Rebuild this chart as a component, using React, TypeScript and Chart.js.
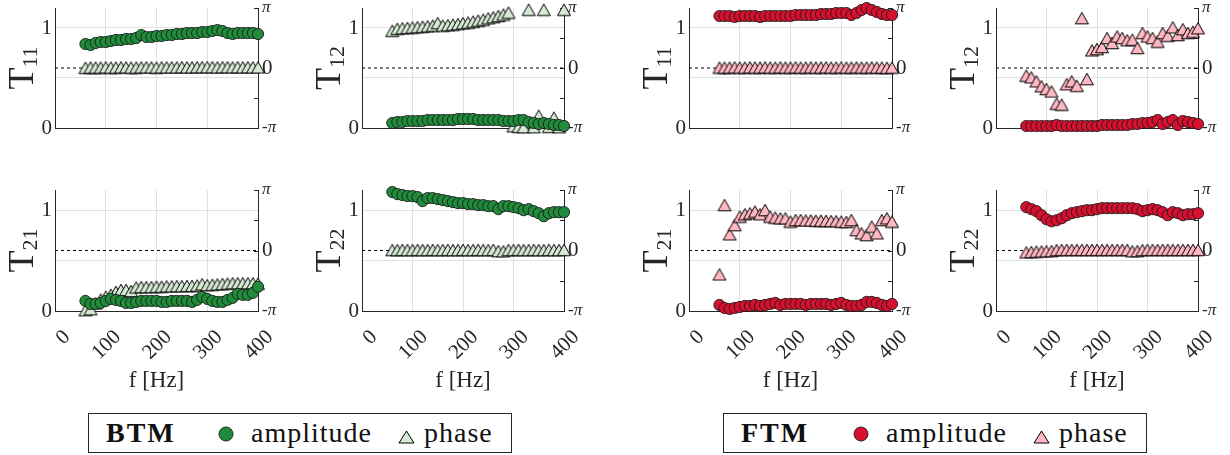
import React, { useEffect, useRef } from 'react';
import { Chart, registerables } from 'chart.js';

Chart.register(...registerables);

const FONT = '"Liberation Serif", "Times New Roman", serif';
const AXIS = '#262626';
const GRID = '#e0e0e0';

// ---------- data ----------
const freqs = [60, 70, 80, 90, 100, 110, 120, 130, 140, 150, 160, 170, 180, 190, 200, 210, 220, 230, 240, 250, 260, 270, 280, 290, 300, 310, 320, 330, 340, 350, 360, 370, 380, 390, 400];
const xTicks = [0, 100, 200, 300, 400];
const ampTicks = [0, 0.5, 1];
const ampTickLabels = ['0', '', '1'];
const ampRange = [0, 1.2];
const phaseTicks = [-Math.PI, -Math.PI / 2, 0, Math.PI / 2, Math.PI];
const phaseTickLabels = ['-π', '', '0', '', 'π'];
const phaseRange = [-Math.PI, Math.PI];
const xLabel = 'f [Hz]';
const legendNames = ['BTM', 'FTM'];
const seriesNames = ['amplitude', 'phase'];

const btmT11Amp = [0.84, 0.83, 0.85, 0.86, 0.86, 0.87, 0.88, 0.88, 0.89, 0.89, 0.90, 0.93, 0.91, 0.91, 0.92, 0.92, 0.93, 0.93, 0.94, 0.94, 0.95, 0.95, 0.95, 0.96, 0.96, 0.97, 0.98, 0.97, 0.95, 0.94, 0.95, 0.95, 0.95, 0.95, 0.94];
const btmT11Phase = [0.01, 0.02, 0.02, 0.02, 0.03, 0.02, 0.02, 0.03, 0.03, 0.02, 0.02, 0.03, 0.03, 0.03, 0.02, 0.03, 0.03, 0.03, 0.03, 0.04, 0.03, 0.03, 0.04, 0.04, 0.04, 0.04, 0.03, 0.04, 0.04, 0.03, 0.04, 0.03, 0.04, 0.03, 0.03];
const btmT12Amp = [0.05, 0.06, 0.06, 0.07, 0.07, 0.07, 0.07, 0.08, 0.08, 0.08, 0.08, 0.08, 0.08, 0.09, 0.09, 0.09, 0.09, 0.08, 0.08, 0.08, 0.08, 0.08, 0.07, 0.07, 0.07, 0.08, 0.08, 0.06, 0.05, 0.04, 0.05, 0.04, 0.03, 0.03, 0.02];
const btmT12Phase = [1.95, 2.05, 2.08, 2.10, 2.12, 2.14, 2.16, 2.18, 2.22, 2.35, 2.22, 2.24, 2.27, 2.30, 2.34, 2.38, 2.43, 2.48, 2.53, 2.60, 2.66, 2.72, 2.80, 2.90, -3.05, -3.08, -3.10, 3.05, -3.10, -2.50, 3.05, -3.08, -2.60, -3.10, 3.05];
const btmT21Amp = [0.10, 0.07, 0.07, 0.08, 0.10, 0.12, 0.11, 0.10, 0.08, 0.08, 0.09, 0.10, 0.10, 0.10, 0.10, 0.09, 0.09, 0.10, 0.10, 0.10, 0.10, 0.09, 0.11, 0.14, 0.12, 0.10, 0.09, 0.09, 0.11, 0.13, 0.17, 0.16, 0.16, 0.18, 0.24];
const btmT21Phase = [-3.10, -3.05, -2.75, -2.55, -2.40, -2.30, -2.15, -2.05, -2.05, -2.10, -1.92, -1.90, -1.90, -1.90, -1.88, -1.88, -1.86, -1.86, -1.85, -1.85, -1.84, -1.84, -1.82, -1.75, -1.80, -1.78, -1.76, -1.74, -1.72, -1.70, -1.70, -1.70, -1.70, -1.70, -1.72];
const btmT22Amp = [1.18, 1.16, 1.15, 1.14, 1.14, 1.13, 1.09, 1.12, 1.12, 1.11, 1.10, 1.09, 1.08, 1.07, 1.07, 1.06, 1.06, 1.05, 1.05, 1.04, 1.04, 1.01, 1.04, 1.04, 1.03, 1.02, 1.00, 1.01, 0.99, 0.97, 0.94, 0.97, 0.98, 0.98, 0.98];
const btmT22Phase = [0.02, 0.02, 0.03, 0.02, 0.02, 0.03, 0.02, 0.02, 0.03, 0.02, 0.02, 0.03, 0.02, 0.02, 0.03, 0.02, 0.02, 0.03, 0.02, 0.02, 0.03, -0.03, -0.04, 0.02, 0.02, 0.03, 0.02, 0.02, 0.03, 0.02, 0.02, 0.03, 0.02, 0.02, 0.03];

const ftmT11Amp = [1.12, 1.12, 1.12, 1.11, 1.12, 1.12, 1.12, 1.12, 1.11, 1.12, 1.12, 1.12, 1.12, 1.12, 1.12, 1.13, 1.13, 1.13, 1.13, 1.13, 1.14, 1.14, 1.14, 1.15, 1.15, 1.15, 1.13, 1.15, 1.18, 1.20, 1.18, 1.16, 1.14, 1.13, 1.13];
const ftmT11Phase = [0.02, 0.02, 0.02, 0.03, 0.02, 0.02, 0.03, 0.02, 0.02, 0.03, 0.02, 0.02, 0.03, 0.02, 0.02, 0.03, 0.02, 0.02, 0.03, 0.02, 0.02, 0.03, 0.02, 0.02, 0.03, 0.02, 0.02, 0.03, 0.02, 0.02, 0.03, 0.02, 0.02, 0.01, 0.02];
const ftmT12Amp = [0.02, 0.02, 0.02, 0.02, 0.02, 0.02, 0.03, 0.02, 0.02, 0.02, 0.02, 0.02, 0.02, 0.02, 0.02, 0.03, 0.03, 0.03, 0.03, 0.03, 0.03, 0.04, 0.04, 0.05, 0.05, 0.06, 0.08, 0.04, 0.06, 0.08, 0.03, 0.07, 0.06, 0.05, 0.04];
const ftmT12Phase = [-0.40, -0.49, -0.70, -0.96, -1.10, -1.23, -1.87, -1.92, -0.85, -0.70, -0.93, 2.61, -0.58, 0.92, 0.99, 1.10, 1.57, 1.31, 1.65, 1.57, 1.45, 1.48, 1.05, 1.83, 1.65, 1.57, 1.38, 1.83, 1.69, 2.13, 1.73, 2.03, 1.83, 1.90, 2.08];
const ftmT21Amp = [0.06, 0.03, 0.02, 0.03, 0.04, 0.05, 0.05, 0.06, 0.05, 0.06, 0.07, 0.08, 0.06, 0.07, 0.07, 0.07, 0.07, 0.06, 0.07, 0.07, 0.07, 0.07, 0.06, 0.07, 0.08, 0.06, 0.05, 0.05, 0.06, 0.09, 0.09, 0.08, 0.06, 0.05, 0.07];
const ftmT21Phase = [-1.24, 2.36, 0.84, 1.32, 1.76, 1.88, 1.93, 2.02, 1.88, 2.10, 1.76, 1.71, 1.67, 1.67, 1.50, 1.58, 1.58, 1.56, 1.56, 1.55, 1.55, 1.54, 1.53, 1.52, 1.50, 1.48, 1.58, 1.06, 0.89, 0.80, 1.24, 0.89, 1.58, 1.67, 1.50];
const ftmT22Amp = [1.03, 1.01, 0.99, 0.95, 0.91, 0.89, 0.90, 0.92, 0.95, 0.97, 0.98, 0.99, 1.00, 1.00, 1.01, 1.02, 1.02, 1.02, 1.02, 1.02, 1.02, 1.02, 1.01, 0.99, 1.00, 1.01, 1.00, 0.98, 0.95, 0.98, 0.97, 0.95, 0.96, 0.96, 0.97];
const ftmT22Phase = [-0.10, -0.08, -0.06, -0.05, -0.04, -0.03, 0.02, 0.03, 0.03, 0.03, 0.03, 0.03, 0.03, 0.03, 0.03, 0.03, 0.03, 0.03, 0.03, 0.03, 0.03, -0.04, -0.03, 0.02, 0.03, 0.03, 0.03, 0.03, 0.03, 0.03, 0.03, 0.03, 0.03, 0.03, 0.03];

// ---------- styles / layout ----------
const COLORS: Record<string, { amp: string; phase: string }> = {
  BTM: { amp: '#208b3a', phase: '#d6e9d5' },
  FTM: { amp: '#d8102f', phase: '#ffb7c2' },
};
const colLeft = [55, 362, 689, 996];
const colRight = [258, 564, 892, 1198];
const rowTop = [8, 190];
const rowBottom = [128, 311];
const rowCanvasTop = [0, 182];
const rowCanvasBottom = [180, 400];
const LEFT_W = 55;
const RIGHT_W = 32;

type PanelDef = { sub: string; group: string; amp: number[]; phase: number[]; col: number; row: number };
const panels: PanelDef[] = [
  { sub: '11', group: 'BTM', amp: btmT11Amp, phase: btmT11Phase, col: 0, row: 0 },
  { sub: '12', group: 'BTM', amp: btmT12Amp, phase: btmT12Phase, col: 1, row: 0 },
  { sub: '11', group: 'FTM', amp: ftmT11Amp, phase: ftmT11Phase, col: 2, row: 0 },
  { sub: '12', group: 'FTM', amp: ftmT12Amp, phase: ftmT12Phase, col: 3, row: 0 },
  { sub: '21', group: 'BTM', amp: btmT21Amp, phase: btmT21Phase, col: 0, row: 1 },
  { sub: '22', group: 'BTM', amp: btmT22Amp, phase: btmT22Phase, col: 1, row: 1 },
  { sub: '21', group: 'FTM', amp: ftmT21Amp, phase: ftmT21Phase, col: 2, row: 1 },
  { sub: '22', group: 'FTM', amp: ftmT22Amp, phase: ftmT22Phase, col: 3, row: 1 },
];

function makeTriangle(fill: string): HTMLCanvasElement {
  const c = document.createElement('canvas');
  c.width = 16;
  c.height = 14;
  const g = c.getContext('2d')!;
  g.beginPath();
  g.moveTo(1.5, 12.75);
  g.lineTo(14.5, 12.75);
  g.lineTo(8, 1.25);
  g.closePath();
  g.fillStyle = fill;
  g.fill();
  g.lineWidth = 1;
  g.strokeStyle = '#000';
  g.stroke();
  return c;
}

const panelDecor = {
  id: 'panelDecor',
  beforeDatasetsDraw(chart: any) {
    const { ctx, chartArea: a, scales } = chart;
    ctx.save();
    ctx.strokeStyle = AXIS;
    ctx.lineWidth = 1;
    for (const v of phaseTicks) {
      const y = Math.round(scales.y2.getPixelForValue(v)) + 0.5;
      ctx.beginPath();
      ctx.moveTo(a.right, y);
      ctx.lineTo(a.right - 4, y);
      ctx.stroke();
    }
    ctx.restore();
  },
  afterDraw(chart: any, _args: any, opts: any) {
    const { ctx, chartArea: a } = chart;
    ctx.save();
    ctx.fillStyle = AXIS;
    ctx.textBaseline = 'alphabetic';
    ctx.textAlign = 'left';
    const bigFont = `36px ${FONT}`;
    const subFont = `22px ${FONT}`;
    ctx.font = bigFont;
    const tw = ctx.measureText('T').width;
    ctx.font = subFont;
    const sw = ctx.measureText(opts.sub).width;
    const total = tw + sw;
    ctx.translate(a.left - 22, (a.top + a.bottom) / 2);
    ctx.rotate(-Math.PI / 2);
    ctx.font = bigFont;
    ctx.fillText('T', -total / 2, 0);
    ctx.font = subFont;
    ctx.fillText(opts.sub, -total / 2 + tw, 4);
    ctx.restore();
    if (opts.showX) {
      ctx.save();
      ctx.fillStyle = AXIS;
      ctx.font = `23px ${FONT}`;
      ctx.textAlign = 'center';
      ctx.textBaseline = 'middle';
      ctx.fillText(xLabel, (a.left + a.right) / 2, a.bottom + 70);
      ctx.restore();
    }
  },
};

function zeroPad(s: any) {
  s.paddingLeft = 0;
  s.paddingRight = 0;
  s.paddingTop = 0;
  s.paddingBottom = 0;
}

function PanelChart({ p }: { p: PanelDef }) {
  const ref = useRef<HTMLCanvasElement>(null);
  const left = colLeft[p.col] - LEFT_W;
  const width = colRight[p.col] - colLeft[p.col] + LEFT_W + RIGHT_W;
  const top = rowCanvasTop[p.row];
  const height = rowCanvasBottom[p.row] - top;
  const padTop = rowTop[p.row] - top;
  const xH = rowCanvasBottom[p.row] - rowBottom[p.row];
  const showX = p.row === 1;

  useEffect(() => {
    const c = COLORS[p.group];
    const tri = makeTriangle(c.phase);
    const chart = new Chart(ref.current!, {
      type: 'scatter',
      data: {
        datasets: [
          {
            label: seriesNames[0],
            data: freqs.map((f, i) => ({ x: f, y: p.amp[i] })),
            yAxisID: 'y',
            pointStyle: 'circle',
            pointRadius: 5.6,
            pointBackgroundColor: c.amp,
            pointBorderColor: '#1a1a1a',
            pointBorderWidth: 0.9,
            showLine: false,
            order: 1,
            clip: false,
          } as any,
          {
            label: seriesNames[1],
            data: freqs.map((f, i) => ({ x: f, y: p.phase[i] })),
            yAxisID: 'y2',
            pointStyle: tri,
            pointRadius: 7,
            showLine: false,
            order: 2,
            clip: false,
          } as any,
          {
            type: 'line',
            label: 'zero',
            data: [
              { x: xTicks[0], y: 0 },
              { x: xTicks[xTicks.length - 1], y: 0 },
            ],
            yAxisID: 'y2',
            borderColor: '#000',
            borderWidth: 1,
            borderDash: [3, 3],
            pointRadius: 0,
            showLine: true,
            order: 3,
            clip: false,
          } as any,
        ],
      },
      options: {
        responsive: false,
        animation: false,
        events: [],
        layout: { padding: { top: padTop, left: 0, right: 0, bottom: 0 } },
        plugins: {
          legend: { display: false },
          tooltip: { enabled: false },
          panelDecor: { sub: p.sub, showX },
        } as any,
        scales: {
          x: {
            type: 'linear',
            position: 'bottom',
            min: xTicks[0],
            max: xTicks[xTicks.length - 1],
            afterBuildTicks: (s: any) => {
              s.ticks = xTicks.map((v) => ({ value: v }));
            },
            afterFit: (s: any) => {
              s.height = xH;
              zeroPad(s);
            },
            grid: { color: GRID, lineWidth: 1, drawTicks: false },
            border: { display: true, color: AXIS, width: 1 },
            ticks: {
              display: showX,
              autoSkip: false,
              minRotation: 45,
              maxRotation: 45,
              padding: 14,
              labelOffset: 12,
              color: AXIS,
              font: { family: FONT, size: 21 },
              callback: (v: any) => String(v),
            },
          },
          y: {
            type: 'linear',
            position: 'left',
            min: ampRange[0],
            max: ampRange[1],
            afterBuildTicks: (s: any) => {
              s.ticks = ampTicks.map((v) => ({ value: v }));
            },
            afterFit: (s: any) => {
              s.width = LEFT_W;
              zeroPad(s);
            },
            grid: { color: GRID, lineWidth: 1, drawTicks: false },
            border: { display: true, color: AXIS, width: 1 },
            ticks: {
              padding: 3,
              color: AXIS,
              font: { family: FONT, size: 21 },
              callback: (_v: any, i: number) => ampTickLabels[i],
            },
          },
          y2: {
            type: 'linear',
            position: 'right',
            min: phaseRange[0],
            max: phaseRange[1],
            afterBuildTicks: (s: any) => {
              s.ticks = phaseTicks.map((v) => ({ value: v }));
            },
            afterFit: (s: any) => {
              s.width = RIGHT_W;
              zeroPad(s);
            },
            grid: { drawOnChartArea: false, drawTicks: false },
            border: { display: true, color: AXIS, width: 1 },
            ticks: {
              padding: 4,
              color: AXIS,
              font: (ctx: any) =>
                ctx.tick && Math.abs(ctx.tick.value) > 1
                  ? { family: FONT, size: 17, style: 'italic' }
                  : { family: FONT, size: 21 },
              callback: (_v: any, i: number) => phaseTickLabels[i],
            },
          },
        },
      },
      plugins: [panelDecor as any],
    });
    return () => chart.destroy();
  }, []);

  return (
    <canvas
      ref={ref}
      width={width}
      height={height}
      style={{ position: 'absolute', left, top, width, height }}
    />
  );
}

function TriangleIcon({ fill }: { fill: string }) {
  return (
    <svg width={17} height={14} style={{ position: 'absolute', left: 317 - 8.5, top: 23 - 7 }}>
      <polygon points="1,13 16,13 8.5,1" fill={fill} stroke="#000" strokeWidth={1} />
    </svg>
  );
}

function LegendBox({ left, name }: { left: number; name: string }) {
  const c = COLORS[name];
  const textStyle: React.CSSProperties = {
    position: 'absolute',
    top: 4.6,
    fontSize: 28,
    lineHeight: 1,
    whiteSpace: 'nowrap',
    letterSpacing: 1,
  };
  return (
    <div
      style={{
        position: 'absolute',
        left,
        top: 413,
        width: 424,
        height: 40,
        boxSizing: 'border-box',
        border: '1px solid #262626',
        background: '#fff',
        fontFamily: FONT,
        color: '#111',
      }}
    >
      <span style={{ ...textStyle, left: 17, fontWeight: 'bold', letterSpacing: 2 }}>{name}</span>
      <svg width={18} height={18} style={{ position: 'absolute', left: 137 - 9, top: 20 - 9 }}>
        <circle cx={9} cy={9} r={7} fill={c.amp} stroke="#1a1a1a" strokeWidth={0.9} />
      </svg>
      <span style={{ ...textStyle, left: 162 }}>{seriesNames[0]}</span>
      <TriangleIcon fill={c.phase} />
      <span style={{ ...textStyle, left: 335 }}>{seriesNames[1]}</span>
    </div>
  );
}

export default function App() {
  return (
    <div
      style={{
        position: 'absolute',
        left: 0,
        top: 0,
        width: 1230,
        height: 455,
        overflow: 'hidden',
        background: '#fff',
      }}
    >
      {panels.map((p, i) => (
        <PanelChart key={i} p={p} />
      ))}
      <LegendBox left={88} name={legendNames[0]} />
      <LegendBox left={723} name={legendNames[1]} />
    </div>
  );
}
